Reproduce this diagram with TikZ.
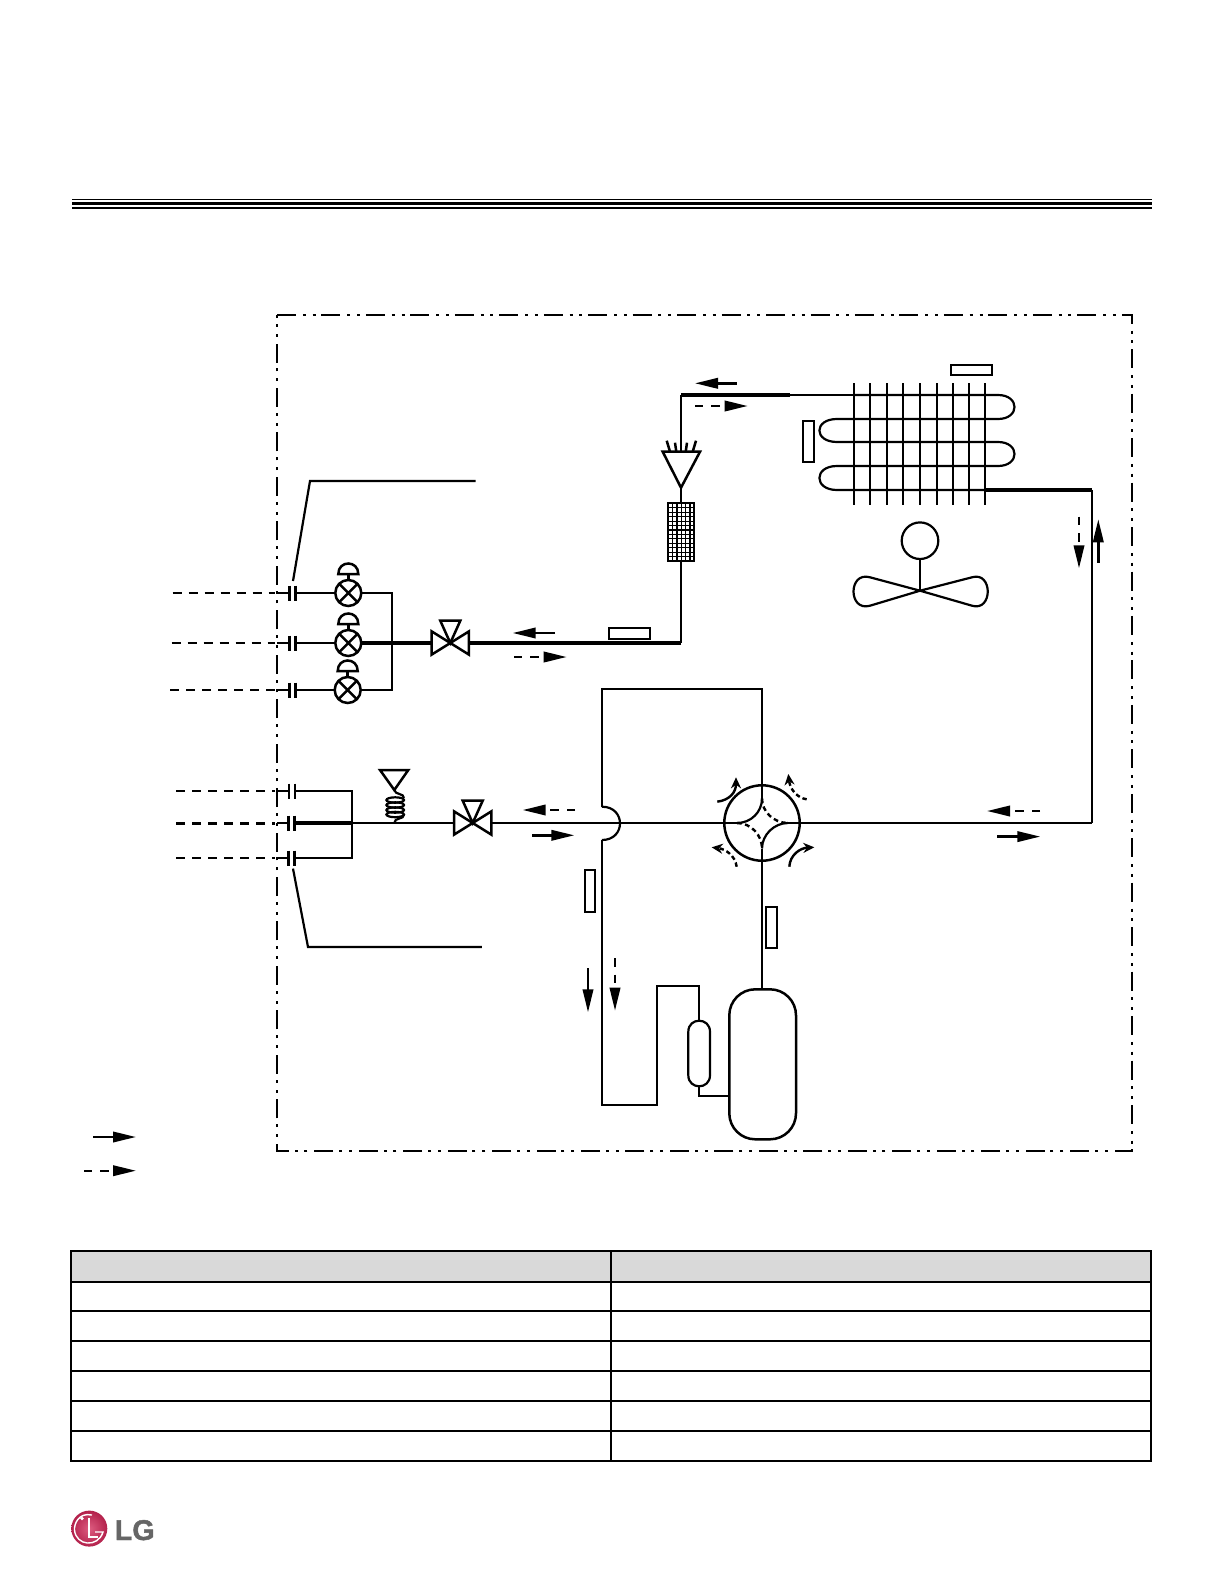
\documentclass[tikz,border=0pt]{standalone}
\usepackage{fontspec}
\setmainfont{Liberation Sans}
\newfontfamily\lgfont[FakeBold=1.6]{Liberation Sans}
\usetikzlibrary{arrows.meta,calc}
\definecolor{lgred}{HTML}{B3214B}
\definecolor{lgpink}{HTML}{DD5C80}
\definecolor{lggray}{HTML}{666666}
\definecolor{headgray}{HTML}{D9D9D9}
\tikzset{
  pipe/.style={line width=1.1pt,line join=miter},
  thickpipe/.style={line width=1.7pt},
  symb/.style={line width=1.25pt,line join=miter},
  sensor/.style={draw,line width=1.05pt,fill=white},
  border/.style={line width=1.1pt,dash pattern=on 9.5pt off 3.4pt on 1.5pt off 3.4pt on 1.5pt off 2.93pt},
  field/.style={line width=1.1pt,dash pattern=on 4.5pt off 3.5pt},
  flow/.style={line width=1.2pt,-{Triangle[length=11.5pt,width=5.2pt]}},
  dflow/.style={line width=1.2pt,dash pattern=on 4.2pt off 4pt,-{Triangle[length=11.5pt,width=5.2pt]}},
  cflow/.style={line width=1.2pt,-{Stealth[length=5.5pt,width=5pt]}},
  dcflow/.style={line width=1.2pt,dash pattern=on 2.2pt off 1.5pt,-{Stealth[length=5.5pt,width=5pt]}},
  capjoint/.pic={\draw[line width=1.35pt] (-3,-7.5)--(-3,7.5) (3,-7.5)--(3,7.5);},
  expvalve/.pic={
    \draw[symb,fill=white] (0,0) circle[radius=13];
    \draw[symb] (-9.2,-9.2)--(9.2,9.2) (-9.2,9.2)--(9.2,-9.2);
    \draw[symb] (0,-13)--(0,-19);
    \draw[symb] (-10,-19) .. controls (-10,-33) and (10,-33) .. (10,-19) -- cycle;
  },
  svcvalve/.pic={
    \draw[symb,fill=white] (-18.6,-11.6)--(-18.6,11.6)--(18.6,-11.6)--(18.6,11.6)--cycle;
    \draw[symb] (-10,-22.3)--(10,-22.3)--(0,0)--cycle;
  }
}
\begin{document}
\begin{tikzpicture}[x=0.5pt,y=-0.5pt]
\useasboundingbox (0,0) rectangle (1224,1584);
\fill[white] (0,0) rectangle (1224,1584);

% top rules
\draw[line width=0.7pt] (72,199.4)--(1152,199.4);
\draw[line width=1.5pt] (72,203.4)--(1152,203.4);
\draw[line width=0.9pt] (72,208.2)--(1152,208.2);

% unit border
\draw[border] (277,315) -- (1132,315) -- (1132,1151) -- (277,1151) -- cycle;

% named points
\coordinate (cA) at (681,395);
\coordinate (cB) at (854,395);
\coordinate (cC) at (681,643);
\coordinate (cD) at (469,643);
\coordinate (cE) at (985,490);
\coordinate (cF) at (1092,490);
\coordinate (cG) at (1092,823);
\coordinate (cH) at (788,823);
\coordinate (cI) at (491.7,823);
\coordinate (cJ) at (737,823);
\coordinate (fw) at (762,823);

% condenser coil
\draw[pipe] (cB) -- (998,395) .. controls (1020,395) and (1020,419) .. (998,419)
  -- (837,419) .. controls (813.5,419) and (813.5,442) .. (837,442)
  -- (998,442) .. controls (1020,442) and (1020,466) .. (998,466)
  -- (837,466) .. controls (813.5,466) and (813.5,490) .. (837,490)
  -- (cE);
\foreach \x in {854,870,887,903,920,937,953,969,985}
  \draw[pipe] (\x,383) -- (\x,504.7);
\draw[sensor] (950.7,364.7) rectangle (992,375);
\draw[sensor] (803.3,420.7) rectangle (814.3,462);

% fan
\draw[pipe] (920,540.7) circle[radius=18.3];
\draw[pipe] (920,559) -- (920,590.7);
\draw[pipe] (920,590.7) -- (870,577.3) .. controls (848,571) and (848,612) .. (870,605.7) -- (920,590.7)
  -- (972,577.3) .. controls (993,571) and (993,612) .. (972,605.7) -- cycle;

% right pipes
\draw[thickpipe] (cE) -- (cF);
\draw[pipe] (cF) -- (cG);
\draw[pipe] (cH) -- (cG);
\draw[line width=1.4pt] (950,823) -- (cG);

% liquid side: header, distributor, strainer
\draw[thickpipe] (790,395) -- (cA);
\draw[pipe] (790,395) -- (cB);
\draw[pipe] (cA) -- (681,451.7);
\draw[symb] (662.7,451.7) -- (700,451.7) -- (681,487.7) -- cycle;
\draw[symb] (666.7,440.7)--(670,451.7) (675,442.7)--(676.3,451.7) (687,442.7)--(685.7,451.7) (696,440.7)--(692.7,451.7);
\draw[pipe] (681,487.7) -- (681,503.3);
\foreach \x in {672.6,677,681.3,685.6,690} \draw[line width=0.55pt] (\x,503.3)--(\x,561.3);
\foreach \y in {507.8,512.2,516.7,521.1,525.6,530,534.4,538.9,543.3,547.8,552.2,556.7} \draw[line width=0.55pt] (668.3,\y)--(694.3,\y);
\draw[line width=1.1pt] (668.3,503.3) rectangle (694.3,561.3);
\draw[pipe] (681,561.3) -- (cC);
\draw[thickpipe] (cC) -- (cD);
\draw[sensor] (609,628.2) rectangle (650.4,639.3);

% liquid service valve and expansion valves
\draw[thickpipe] (361.3,643) -- (431.7,643);
\draw[pipe] (361.3,593) -- (392,593) -- (392,690) -- (361.3,690);
\pic at (450.3,643) {svcvalve};
\pic at (348.3,593) {expvalve};
\pic at (348.3,643) {expvalve};
\pic at (347.7,690) {expvalve};

% connections to indoor units (liquid)
\draw[field] (172.7,593) -- (275,593);
\draw[field] (171.7,643) -- (275,643);
\draw[field] (170,690) -- (275,690);
\draw[line width=1.1pt] (277,593) -- (289.3,593) (277,643) -- (289.3,643) (277,690) -- (289.3,690);
\draw[pipe] (295.3,593) -- (335.3,593);
\draw[pipe] (295.3,643) -- (335.3,643);
\draw[pipe] (295.3,690) -- (334.7,690);
\pic at (292.3,593) {capjoint};
\pic at (292.3,643) {capjoint};
\pic at (292.3,690) {capjoint};

% connections to indoor units (gas)
\draw[field] (176,791) -- (275,791);
\draw[field,line width=1.5pt] (176,823) -- (275,823);
\draw[field] (176,858) -- (275,858);
\draw[line width=1.1pt] (277,791) -- (289,791) (277,823) -- (289,823) (277,858) -- (289,858);
\pic at (292,791) {capjoint};
\pic at (291.5,823) {capjoint};
\pic at (291.5,858) {capjoint};
\draw[pipe] (295,791) -- (352,791) -- (352,858) -- (295,858);
\draw[thickpipe] (295,823) -- (352,823);
\draw[pipe] (352,823) -- (454,823);
\pic at (472.7,823) {svcvalve};

% pressure port and capillary
\draw[symb] (380,770) -- (408.3,770) -- (394.3,790) -- cycle;
\draw[line width=1.1pt] (394.3,790) .. controls (395,795) and (404,793) .. (404,798);
\foreach \y in {800,805,810,814.5}
  \draw[line width=1.1pt] (395.2,\y) ellipse[x radius=8.8,y radius=2.7];
\draw[line width=1.1pt] (404,814.5) .. controls (404,820) and (394.3,817) .. (394.3,823);

% lead lines
\draw[pipe] (293,581) -- (310,481) -- (475.7,481);
\draw[pipe] (293,868.6) -- (308,947) -- (481.8,947);

% gas line with crossing bump
\draw[pipe] (cI) -- (cJ);
\draw[pipe] (602,806.7) .. controls (626,806.7) and (626,840) .. (602,840);
\draw[pipe] (602,840) -- (602,1105) -- (657,1105) -- (657,986) -- (699,986) -- (699,1021);
\draw[pipe] (602,806.7) -- (602,689) -- (762,689) -- (762,785.6);
\draw[sensor] (585,870) rectangle (595.3,912);

% four-way valve
\draw[line width=1.25pt] (fw) circle[radius=37.7];
\draw[pipe] (762,798.5) .. controls (762,812) and (751,823) .. (cJ);
\draw[pipe] (762,848.5) .. controls (762,835) and (774,823) .. (cH);
\draw[line width=1.2pt,dash pattern=on 2.4pt off 1.7pt] (762,798.5) .. controls (762,812) and (774,823) .. (cH);
\draw[line width=1.2pt,dash pattern=on 2.4pt off 1.7pt] (cJ) .. controls (751,823) and (762,835) .. (762,848.5);
\draw[pipe] (762,785.6) -- (762,798.5);
\draw[pipe] (762,848.5) -- (762,989.3);
\draw[sensor] (765.7,906.7) rectangle (777.3,948.3);

% flow arrows around four-way valve
\draw[cflow] (717.3,801.7) .. controls (730,800) and (736,792) .. (736,777.3);
\draw[dcflow] (806.7,799.3) .. controls (797,798) and (790,789) .. (788.3,774);
\draw[dcflow] (736.7,866.7) .. controls (735,855) and (725,849) .. (711.7,847.3);
\draw[cflow] (789.3,866.7) .. controls (790,855) and (800,848) .. (814.3,847.3);

% accumulator and compressor
\draw[pipe] (688.3,1031.8) .. controls (688.3,1017) and (710,1017) .. (710,1031.8)
  -- (710,1075.2) .. controls (710,1090) and (688.3,1090) .. (688.3,1075.2) -- cycle;
\draw[pipe] (699,1086) -- (699,1096) -- (729.3,1096);
\draw[line width=1.25pt,rounded corners=13pt] (729.3,989.3) rectangle (796,1139.3);

% flow arrows, solid and dashed
\draw[flow] (736.7,383.3) -- (695,383.3);
\draw[dflow] (695,406) -- (747.7,406);
\draw[flow] (555,633) -- (512.7,633);
\draw[dflow] (514,657) -- (566.7,657);
\draw[dflow] (575,810) -- (522.7,810);
\draw[flow] (532.3,835.3) -- (574.3,835.3);
\draw[dflow] (1040,811) -- (987,811);
\draw[flow] (997,836.6) -- (1040.3,836.6);
\draw[dflow] (1079,516.7) -- (1079,568.3);
\draw[flow] (1098.3,562.6) -- (1098.3,519.3);
\draw[flow] (588,968.3) -- (588,1012.3);
\draw[dflow] (615,958.3) -- (615,1010.7);

% legend
\draw[flow] (93,1137) -- (136,1137);
\draw[dflow] (84,1170.7) -- (136,1170.7);

% table
\fill[headgray] (71,1250.5) rectangle (1151,1282);
\draw[line width=1pt] (71,1250.5) rectangle (1151,1460.5);
\draw[line width=1pt] (611,1250.5) -- (611,1460.5);
\foreach \y in {1282,1311,1341,1371,1401,1431}
  \draw[line width=1pt] (71,\y) -- (1151,\y);

% logo
\shade[inner color=lgpink,outer color=lgred] (89.3,1528.6) circle[radius=18];
\fill[white] (82,1518.5) circle[radius=1.8];
\draw[white,line width=0.9pt] (89,1518)--(89,1537)--(98,1537);
\draw[white,line width=0.7pt] (92,1515) .. controls (78,1512) and (74,1525) .. (74.5,1530) .. controls (76,1546) and (98,1548) .. (103,1532) -- (95,1532);
\node[anchor=base west,inner sep=0pt,text=lggray,font=\lgfont\bfseries\fontsize{14.3}{14.3}\selectfont] (logotext) at (114.5,1540) {LG};
\end{tikzpicture}
\end{document}
